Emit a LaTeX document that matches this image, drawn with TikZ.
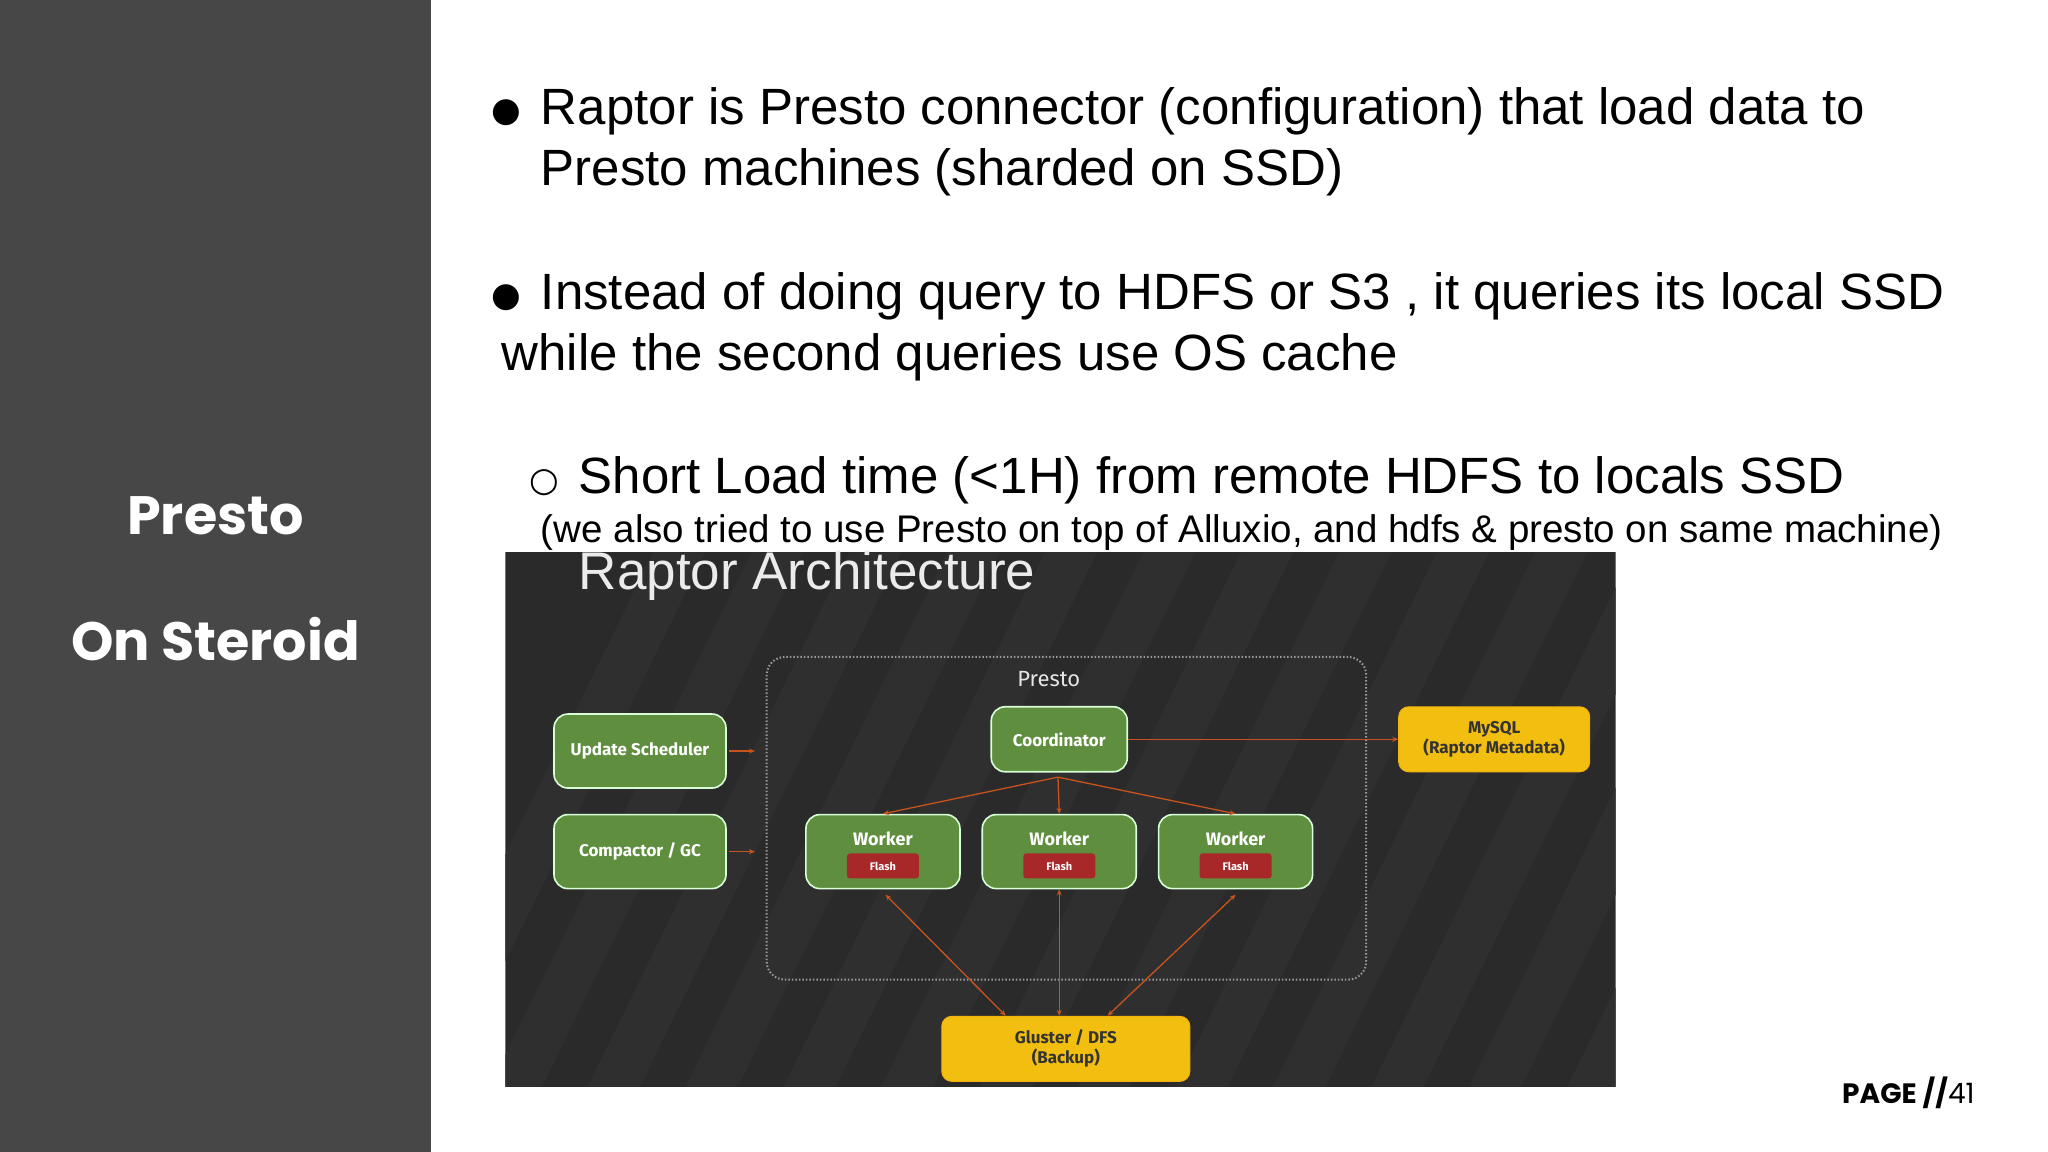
\documentclass[tikz,border=0pt]{standalone}
\usepackage{fontspec}
\setmainfont{Liberation Sans}
\newfontfamily\fira{Fira Sans}
\newfontfamily\pop{Poppins}
\newfontfamily\dejav{DejaVu Sans}
\usetikzlibrary{arrows.meta}
\definecolor{panel}{HTML}{474747}
\definecolor{imgbg}{HTML}{2A2A2A}
\definecolor{stripe}{HTML}{2F2F2F}
\definecolor{gbox}{HTML}{5F8E3E}
\definecolor{ybox}{HTML}{F2BE0F}
\definecolor{rbox}{HTML}{A8282A}
\definecolor{arr}{HTML}{C8531E}
\tikzset{
 gnode/.style={draw=white!85!green, line width=1.6pt, fill=gbox, rounded corners=14pt, text=white, font=\fira\bfseries\fontsize{17}{20}\selectfont, align=center, inner sep=0pt},
 ynode/.style={draw=ybox!80!orange, line width=1pt, fill=ybox, rounded corners=10pt, text=black!80, font=\fira\bfseries\fontsize{17}{20}\selectfont, align=center, inner sep=0pt},
 flash/.style={fill=rbox, rounded corners=3pt, text=white, font=\fira\bfseries\fontsize{11}{12}\selectfont, minimum width=72pt, minimum height=25pt, inner sep=0pt},
 conn/.style={draw=arr, line width=1.3pt, -{Stealth[length=6pt,width=5pt]}},
 biconn/.style={draw=arr, line width=1.3pt, {Stealth[length=6pt,width=5pt]}-{Stealth[length=6pt,width=5pt]}},
 body/.style={anchor=base west, inner sep=0pt, font=\fontsize{51}{60}\selectfont},
 bul/.style={anchor=base west, inner sep=0pt, font=\dejav\fontsize{34}{40}\selectfont},
}
\begin{document}
\begin{tikzpicture}[x=1.306pt,y=-1.306pt]
\useasboundingbox (0,0) rectangle (1568,882);
\fill[white] (0,0) rectangle (1568,882);
\fill[panel] (0,0) rectangle (330,882);
\node[text=white, font=\pop\bfseries\fontsize{54}{58}\selectfont] (t1) at (165,395) {Presto};
\node[text=white, font=\pop\bfseries\fontsize{54}{58}\selectfont] (t2) at (165,489) {On Steroid};
% bullets
\node[bul] (d1) at (376,93) {●};
\node[body] (b1) at (414,95) {Raptor is Presto connector (configuration) that load data to};
\node[body] (b1b) at (414,142) {Presto machines (sharded on SSD)};
\node[bul] (d2) at (376,235) {●};
\node[body] (b2) at (414,237) {Instead of doing query to HDFS or S3 , it queries its local SSD};
\node[body] (b2b) at (384,284) {while the second queries use OS cache};
\node[bul] (d3) at (405,376) {○};
\node[body] (b3) at (443,378) {Short Load time (<1H) from remote HDFS to locals SSD};
\node[body, font=\fontsize{38.5}{44}\selectfont] (b4) at (414,415) {(we also tried to use Presto on top of Alluxio, and hdfs \& presto on same machine)};
% image
\begin{scope}
\clip (387,423) rectangle (1237,832);
\fill[imgbg] (387,423) rectangle (1237,832);
\foreach \i in {0,...,14}{
  \fill[stripe] (300+\i*75,832) -- (340+\i*75,832) -- (540+\i*75,423) -- (500+\i*75,423) -- cycle;
}
\end{scope}
\node[anchor=west, text=white!92!black, font=\fontsize{53}{56}\selectfont, inner sep=0pt] (title) at (443,441) {Raptor Architecture};
\draw[white!60!black, line width=2pt, dash pattern=on 1.5pt off 2pt, rounded corners=18pt] (587,503) rectangle (1046,750);
\node[text=white!90!black, font=\fira\fontsize{22}{24}\selectfont] (presto) at (803,520) {Presto};
\node[gnode, minimum width=172pt, minimum height=74pt] (us) at (490,575) {Update Scheduler};
\node[gnode, minimum width=172pt, minimum height=74pt] (gc) at (490,652) {Compactor / GC};
\node[gnode, minimum width=136pt, minimum height=65pt] (co) at (811,566) {Coordinator};
\node[ynode, minimum width=191pt, minimum height=65pt] (my) at (1144,566) {MySQL\\(Raptor Metadata)};
\foreach \n/\x in {w1/676,w2/811,w3/946}{
  \node[gnode, minimum width=154pt, minimum height=74pt, text depth=0pt] (\n) at (\x,652) {};
  \node[text=white, font=\fira\bfseries\fontsize{18}{20}\selectfont] (\n t) at (\x,642) {Worker};
  \node[flash] (\n f) at (\x,663) {Flash};
}
\node[ynode, minimum width=248pt, minimum height=65pt] (gl) at (816,803) {Gluster / DFS\\(Backup)};
\coordinate (usE) at (578,575);
\coordinate (gcE) at (578,652);
\draw[conn] (us.east) ++(2pt,0) -- (usE);
\draw[conn] (gc.east) ++(2pt,0) -- (gcE);
\draw[conn] (co.east) -- (my.west);
\coordinate (cb) at (810,595);
\draw[conn] (cb) -- (w1.north);
\draw[conn] (cb) -- (w2.north);
\draw[conn] (cb) -- (w3.north);
\draw[biconn] (678,685) -- (gl.north -| 770,0);
\draw[biconn] (w2.south) -- (gl.north -| w2.south);
\draw[biconn] (946,685) -- (gl.north -| 848,0);
\node[anchor=base east, inner sep=0pt, font=\fontsize{28}{30}\selectfont] (pg) at (1512,845) {\pop\bfseries PAGE //\normalfont\pop 41};
\end{tikzpicture}
\end{document}
